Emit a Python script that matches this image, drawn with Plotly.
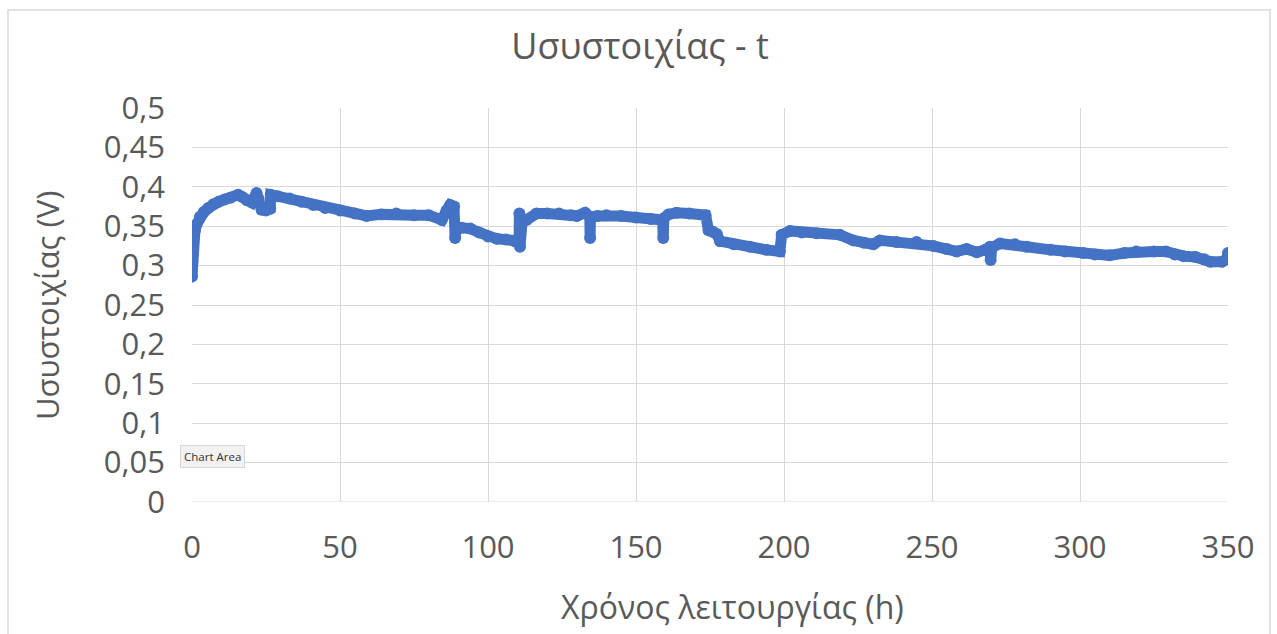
import plotly.graph_objects as go

# Time (h) and battery voltage (V)
time_h = [0, 0.1, 0.3, 0.5, 1, 1.5, 2.7, 4, 5.5, 7.2, 9, 11, 13, 15.6, 17, 18.5, 20.2, 21.8, 22.5, 23.5,
          25, 26.4, 26.6, 29, 33, 37, 41, 45, 50, 55, 59, 64, 69, 75, 80, 84.4, 86, 87.2, 88.5, 88.9,
          89.2, 91, 94, 97, 100, 103, 106, 109, 110.5, 110.6, 110.8, 111.5, 113, 116.4, 120, 124, 128, 130, 132.8, 134.4,
          134.5, 134.6, 137, 140, 145, 150, 155, 159, 159.2, 159.4, 161, 163.7, 168, 173.5, 174.5, 176, 177.3, 178.4, 183, 188.5,
          194, 198.6, 199.2, 202, 206, 211, 218.9, 223.4, 227, 230.2, 232.4, 238, 244.8, 250.4, 255, 258.3, 261.7, 265.1, 268, 269.6,
          269.8, 270.2, 273, 278, 282, 290, 295, 301, 305, 310, 315, 319, 325, 329, 332, 335, 339, 342, 344, 348,
          349.5, 350]
voltage = [0.286, 0.305, 0.32, 0.337, 0.345, 0.352, 0.362, 0.368, 0.373, 0.378, 0.381, 0.384, 0.386, 0.39, 0.387, 0.383, 0.380, 0.392, 0.385, 0.371,
           0.370, 0.372, 0.390, 0.388, 0.385, 0.381, 0.377, 0.373, 0.370, 0.366, 0.363, 0.365, 0.366, 0.364, 0.364, 0.358, 0.370, 0.377, 0.375, 0.335,
           0.350, 0.348, 0.347, 0.342, 0.337, 0.334, 0.333, 0.331, 0.331, 0.366, 0.324, 0.355, 0.358, 0.366, 0.366, 0.366, 0.364, 0.363, 0.367, 0.362,
           0.335, 0.362, 0.363, 0.364, 0.363, 0.361, 0.359, 0.358, 0.335, 0.360, 0.365, 0.367, 0.366, 0.364, 0.345, 0.343, 0.340, 0.331, 0.327, 0.324,
           0.320, 0.318, 0.339, 0.344, 0.342, 0.341, 0.339, 0.332, 0.329, 0.327, 0.332, 0.330, 0.330, 0.325, 0.321, 0.318, 0.321, 0.317, 0.320, 0.324,
           0.307, 0.323, 0.328, 0.327, 0.324, 0.320, 0.318, 0.316, 0.314, 0.313, 0.316, 0.318, 0.318, 0.318, 0.314, 0.312, 0.311, 0.308, 0.305, 0.305,
           0.308, 0.316]

y_tickvals = [0, 0.05, 0.1, 0.15, 0.2, 0.25, 0.3, 0.35, 0.4, 0.45, 0.5]
y_ticktext = ["0", "0,05", "0,1", "0,15", "0,2", "0,25", "0,3", "0,35", "0,4", "0,45", "0,5"]
x_tickvals = [0, 50, 100, 150, 200, 250, 300, 350]

title_text = "Uσυστοιχίας - t"
x_title = "Χρόνος λειτουργίας (h)"
y_title = "Uσυστοιχίας (V)"

blue = "#4472C4"
grey_text = "#595959"
grid = "#d9d9d9"
font_family = "'Open Sans', sans-serif"

fig = go.Figure()
fig.add_trace(go.Scatter(
    x=time_h, y=voltage, mode="lines+markers",
    line=dict(color=blue, width=11),
    marker=dict(color=blue, size=12),
    showlegend=False, hoverinfo="x+y",
))

fig.update_layout(
    width=1277, height=634,
    margin=dict(l=192, r=49, t=108, b=132),
    paper_bgcolor="white", plot_bgcolor="white",
    font=dict(family=font_family, color=grey_text),
    title=dict(text=title_text, x=640 / 1277, xanchor="center", y=1 - 46 / 634, yanchor="middle",
               font=dict(size=36, color=grey_text, family=font_family)),
    xaxis=dict(range=[0, 350], tickvals=x_tickvals, ticks="", showgrid=True, gridcolor=grid, gridwidth=1,
               zeroline=False, showline=False, tickfont=dict(size=31, color=grey_text),
               ticklabelstandoff=24),
    yaxis=dict(range=[0, 0.5], tickvals=y_tickvals, ticktext=y_ticktext, ticks="", showgrid=True,
               gridcolor=grid, gridwidth=1, zeroline=False, showline=False,
               tickfont=dict(size=31, color=grey_text),
               ticklabelstandoff=26),
    shapes=[
        dict(type="line", xref="x", yref="y", x0=0, x1=350, y0=0, y1=0, line=dict(color=grid, width=1)),
        dict(type="rect", xref="paper", yref="paper", x0=-0.1776, x1=1.0405, y0=-0.4, y1=1.2487,
             line=dict(color=grid, width=1.5), fillcolor="rgba(0,0,0,0)", layer="below"),
    ],
    annotations=[
        dict(text=x_title, xref="paper", yref="paper", x=(732 - 192) / 1036, y=(502 - 606) / 394,
             xanchor="center", yanchor="middle", showarrow=False,
             font=dict(size=32, color=grey_text, family=font_family)),
        dict(text=y_title, xref="paper", yref="paper", x=(47 - 192) / 1036, y=(502 - 306) / 394,
             xanchor="center", yanchor="middle", textangle=-90, showarrow=False,
             font=dict(size=31, color=grey_text, family=font_family)),
        dict(text="Chart Area", xref="paper", yref="paper", x=(212 - 192) / 1036, y=(502 - 456) / 394,
             xanchor="center", yanchor="middle",
             showarrow=False, font=dict(size=11.5, color="#333333", family="'Open Sans', sans-serif"),
             bgcolor="#f2f2f2", bordercolor="#d6d6d6", borderwidth=1, borderpad=3),
    ],
)

fig.write_html("out.html")
